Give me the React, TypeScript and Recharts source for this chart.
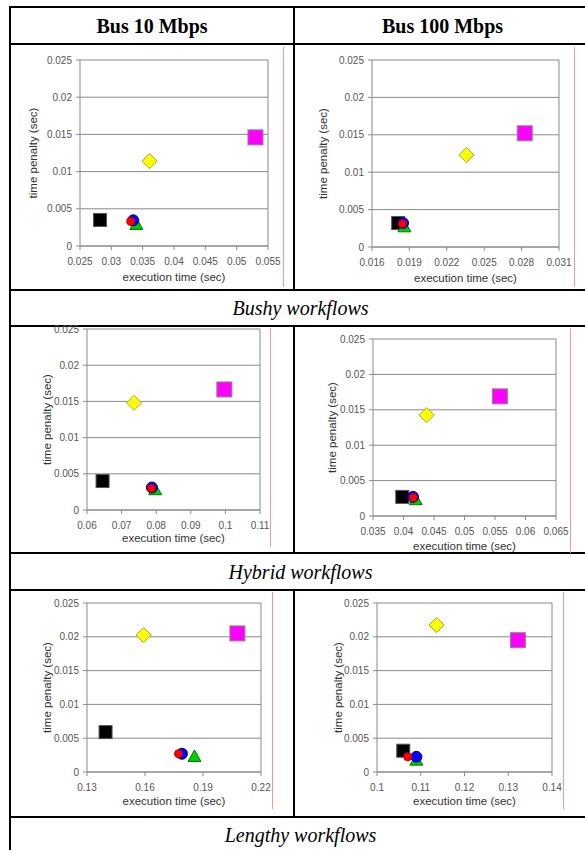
import React from "react";
import { ScatterChart, Scatter, XAxis, YAxis, CartesianGrid, ReferenceLine } from "recharts";

// series order: black square, green triangle, blue circle, red circle, yellow diamond, magenta square
const seriesKeys = ["black", "green", "blue", "red", "yellow", "magenta"];
const yTicks = [0, 0.005, 0.01, 0.015, 0.02, 0.025];

const bushy10Ticks = [0.025, 0.03, 0.035, 0.04, 0.045, 0.05, 0.055];
const bushy10X = [0.0282, 0.034, 0.0335, 0.0331, 0.0361, 0.053];
const bushy10Y = [0.0035, 0.0029, 0.00345, 0.0033, 0.0114, 0.0146];

const bushy100Ticks = [0.016, 0.019, 0.022, 0.025, 0.028, 0.031];
const bushy100X = [0.0181, 0.0186, 0.01849, 0.01844, 0.02357, 0.02825];
const bushy100Y = [0.0032, 0.0027, 0.0032, 0.0031, 0.0123, 0.0152];

const hybrid10Ticks = [0.06, 0.07, 0.08, 0.09, 0.1, 0.11];
const hybrid10X = [0.0645, 0.0797, 0.07875, 0.0786, 0.0736, 0.0997];
const hybrid10Y = [0.004, 0.0028, 0.0031, 0.003, 0.0148, 0.01665];

const hybrid100Ticks = [0.035, 0.04, 0.045, 0.05, 0.055, 0.06, 0.065];
const hybrid100X = [0.0398, 0.042, 0.04155, 0.0416, 0.0438, 0.0558];
const hybrid100Y = [0.0027, 0.0023, 0.0027, 0.0026, 0.01425, 0.0169];

const lengthy10Ticks = [0.13, 0.16, 0.19, 0.22];
const lengthy10X = [0.1396, 0.1856, 0.1791, 0.1773, 0.1593, 0.2078];
const lengthy10Y = [0.0059, 0.0023, 0.0027, 0.0027, 0.02025, 0.0205];

const lengthy100Ticks = [0.1, 0.11, 0.12, 0.13, 0.14];
const lengthy100X = [0.106, 0.109, 0.109, 0.107, 0.1136, 0.1322];
const lengthy100Y = [0.00315, 0.00175, 0.00225, 0.00225, 0.02175, 0.0195];

const columnTitles = ["Bus 10 Mbps", "Bus 100 Mbps"];
const rowTitles = ["Bushy workflows", "Hybrid workflows", "Lengthy workflows"];

const sans = "'Liberation Sans', Arial, sans-serif";
const serif = "'Liberation Serif', 'Times New Roman', serif";
const grey = "#8a8a8a";

function Mark({ kind, cx, cy }: { kind: string; cx?: number; cy?: number }) {
  if (cx == null || cy == null) return null;
  switch (kind) {
    case "black":
      return <rect x={cx - 6.5} y={cy - 6.5} width={13} height={13} fill="#000" stroke="#555" />;
    case "magenta":
      return <rect x={cx - 7.5} y={cy - 7.5} width={15} height={15} fill="#ff00ff" stroke="#888" />;
    case "yellow":
      return (
        <polygon
          points={`${cx},${cy - 7.5} ${cx + 7.5},${cy} ${cx},${cy + 7.5} ${cx - 7.5},${cy}`}
          fill="#ffff00"
          stroke="#a8a830"
        />
      );
    case "blue":
      return <circle cx={cx} cy={cy} r={5.5} fill="#0000ff" stroke="#000080" />;
    case "red":
      return <circle cx={cx} cy={cy} r={4} fill="#ff0000" stroke="#c00000" />;
    default:
      return (
        <polygon
          points={`${cx},${cy - 6.5} ${cx + 6.5},${cy + 5} ${cx - 6.5},${cy + 5}`}
          fill="#00cc00"
          stroke="#007a00"
        />
      );
  }
}

type Box = { l: number; t: number; r: number; b: number };

function Panel({
  box,
  ticks,
  xs,
  ys,
  yTitleGap,
  xTitleGap,
}: {
  box: Box;
  ticks: number[];
  xs: number[];
  ys: number[];
  yTitleGap: number;
  xTitleGap: number;
}) {
  const YW = 64;
  const XH = 42;
  const MT = 10;
  const MR = 18;
  const w = box.r - box.l;
  const h = box.b - box.t;
  const xDomain = [ticks[0], ticks[ticks.length - 1]];
  return (
    <div style={{ position: "absolute", left: box.l - YW, top: box.t - MT }}>
      <ScatterChart
        width={w + YW + MR}
        height={h + MT + XH}
        margin={{ top: MT, right: MR, bottom: 0, left: 0 }}
      >
        <CartesianGrid vertical={false} stroke={grey} />
        <XAxis
          type="number"
          dataKey="x"
          domain={xDomain}
          ticks={ticks}
          height={XH}
          stroke={grey}
          tickSize={4}
          tickMargin={8}
          tick={{ fontSize: 10, fill: "#555", fontFamily: sans }}
          label={{
            value: "execution time (sec)",
            position: "insideBottom",
            offset: XH - xTitleGap - 4,
            style: { fontSize: 11.5, fill: "#333", fontFamily: sans },
          }}
        />
        <YAxis
          type="number"
          dataKey="y"
          domain={[0, 0.025]}
          ticks={yTicks}
          width={YW}
          stroke={grey}
          tickSize={4}
          tickMargin={4}
          tick={{ fontSize: 10, fill: "#555", fontFamily: sans }}
          label={{
            value: "time penalty (sec)",
            angle: -90,
            position: "insideLeft",
            offset: YW - yTitleGap,
            style: { textAnchor: "middle", fontSize: 11.5, fill: "#333", fontFamily: sans },
          }}
        />
        <ReferenceLine x={xDomain[1]} stroke={grey} />
        {seriesKeys.map((k, i) => (
          <Scatter
            key={k}
            name={k}
            data={[{ x: xs[i], y: ys[i] }]}
            isAnimationActive={false}
            shape={(p: any) => <Mark kind={k} cx={p.cx} cy={p.cy} />}
          />
        ))}
      </ScatterChart>
    </div>
  );
}

function HLine({ y, x1 = 9, x2 = 600 }: { y: number; x1?: number; x2?: number }) {
  return <div style={{ position: "absolute", left: x1, top: y, width: x2 - x1, height: 2, background: "#000" }} />;
}

function VLine({ x, y1, y2, color = "#000", w = 2 }: { x: number; y1: number; y2: number; color?: string; w?: number }) {
  return <div style={{ position: "absolute", left: x, top: y1, width: w, height: y2 - y1, background: color }} />;
}

function Cell({ text, l, r, t, b, bold }: { text: string; l: number; r: number; t: number; b: number; bold?: boolean }) {
  return (
    <div
      style={{
        position: "absolute",
        left: l,
        top: t,
        width: r - l,
        height: b - t,
        display: "flex",
        alignItems: "center",
        justifyContent: "center",
        fontFamily: serif,
        fontSize: 20,
        lineHeight: 1,
        fontWeight: bold ? "bold" : "normal",
        fontStyle: bold ? "normal" : "italic",
        color: "#000",
        whiteSpace: "nowrap",
      }}
    >
      {text}
    </div>
  );
}

export default function App() {
  return (
    <div style={{ position: "absolute", left: 0, top: 0, width: 585, height: 850, overflow: "hidden", background: "#fff" }}>
      <HLine y={6} />
      <HLine y={43} />
      <HLine y={289} />
      <HLine y={325} />
      <HLine y={552} />
      <HLine y={589} />
      <HLine y={816} />
      <VLine x={9} y1={6} y2={860} />
      <VLine x={293} y1={6} y2={290} />
      <VLine x={293} y1={325} y2={553} />
      <VLine x={293} y1={589} y2={817} />

      <Cell text={columnTitles[0]} l={11} r={293} t={8} b={43} bold />
      <Cell text={columnTitles[1]} l={295} r={590} t={8} b={43} bold />
      <Cell text={rowTitles[0]} l={11} r={590} t={291} b={325} />
      <Cell text={rowTitles[1]} l={11} r={590} t={554} b={589} />
      <Cell text={rowTitles[2]} l={11} r={590} t={818} b={852} />

      <VLine x={283} y1={47} y2={287} color="#f09a9a" w={1} />
      <VLine x={574} y1={47} y2={287} color="#f09a9a" w={1} />
      <VLine x={270} y1={328} y2={547} color="#f09a9a" w={1} />
      <VLine x={570} y1={328} y2={553} color="#f09a9a" w={1} />
      <VLine x={272} y1={592} y2={809} color="#f09a9a" w={1} />
      <VLine x={563} y1={592} y2={809} color="#f09a9a" w={1} />

      <Panel box={{ l: 80, t: 60, r: 268, b: 246 }} ticks={bushy10Ticks} xs={bushy10X} ys={bushy10Y} yTitleGap={47} xTitleGap={31} />
      <Panel box={{ l: 372, t: 60, r: 559, b: 247 }} ticks={bushy100Ticks} xs={bushy100X} ys={bushy100Y} yTitleGap={49} xTitleGap={31} />
      <Panel box={{ l: 87, t: 329, r: 260, b: 510 }} ticks={hybrid10Ticks} xs={hybrid10X} ys={hybrid10Y} yTitleGap={40} xTitleGap={28} />
      <Panel box={{ l: 373, t: 339, r: 556, b: 516 }} ticks={hybrid100Ticks} xs={hybrid100X} ys={hybrid100Y} yTitleGap={41} xTitleGap={30} />
      <Panel box={{ l: 87, t: 603, r: 261, b: 772 }} ticks={lengthy10Ticks} xs={lengthy10X} ys={lengthy10Y} yTitleGap={40} xTitleGap={29} />
      <Panel box={{ l: 377, t: 603, r: 552, b: 772 }} ticks={lengthy100Ticks} xs={lengthy100X} ys={lengthy100Y} yTitleGap={39} xTitleGap={29} />
    </div>
  );
}
